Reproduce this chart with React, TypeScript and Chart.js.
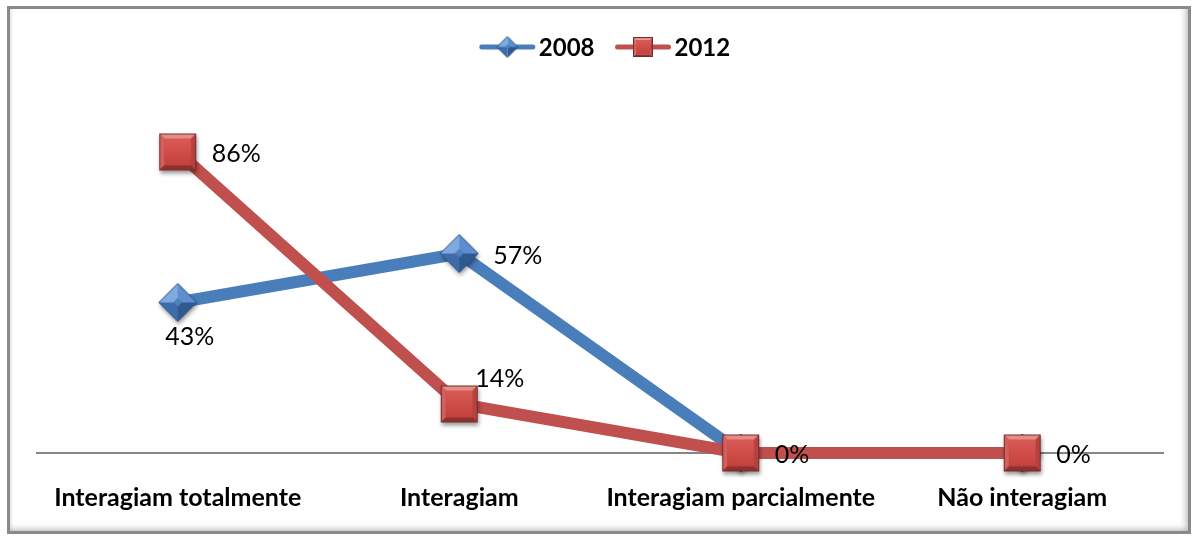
import React, { useEffect, useRef } from "react";
import { Chart, registerables } from "chart.js";

Chart.register(...registerables);

const categories = ["Interagiam totalmente", "Interagiam", "Interagiam parcialmente", "Não interagiam"];
const seriesNames = ["2008", "2012"];
const values2008 = [0.43, 0.57, 0, 0];
const values2012 = [0.86, 0.14, 0, 0];
const labelPos2008 = ["below", "right", "none", "none"];
const labelPos2012 = ["right", "aboveRight", "right", "right"];

const BLUE = "#4A7EBB";
const RED = "#C0504D";
const FONT = "Lato, 'Open Sans', sans-serif";

function makeMarker(kind: string, s: number, shadow: boolean) {
  const pad = Math.ceil(s * 0.2);
  const size = s + pad * 2;
  const c = document.createElement("canvas");
  c.width = size;
  c.height = size;
  const ctx = c.getContext("2d")!;
  const cx = size / 2, cy = size / 2;
  const poly = (pts: number[][], fill: any) => {
    ctx.beginPath();
    ctx.moveTo(pts[0][0], pts[0][1]);
    for (let i = 1; i < pts.length; i++) ctx.lineTo(pts[i][0], pts[i][1]);
    ctx.closePath();
    ctx.fillStyle = fill;
    ctx.fill();
  };
  if (kind === "square") {
    const h = s / 2, b = s * 0.14;
    const x0 = cx - h, x1 = cx + h, y0 = cy - h, y1 = cy + h;
    if (shadow) {
      ctx.save();
      ctx.shadowColor = "rgba(0,0,0,0.4)";
      ctx.shadowBlur = 4;
      ctx.shadowOffsetY = 3;
      ctx.shadowOffsetX = 1;
      poly([[x0, y0], [x1, y0], [x1, y1], [x0, y1]], "#9E3A37");
      ctx.restore();
    }
    poly([[x0, y0], [x1, y0], [x1 - b, y0 + b], [x0 + b, y0 + b]], "#E58C88");
    poly([[x0, y0], [x0 + b, y0 + b], [x0 + b, y1 - b], [x0, y1]], "#D1605C");
    poly([[x1, y0], [x1, y1], [x1 - b, y1 - b], [x1 - b, y0 + b]], "#B4423F");
    poly([[x0, y1], [x0 + b, y1 - b], [x1 - b, y1 - b], [x1, y1]], "#8E302E");
    const g = ctx.createLinearGradient(0, y0 + b, 0, y1 - b);
    g.addColorStop(0, "#DA5A56");
    g.addColorStop(1, "#C4423E");
    poly([[x0 + b, y0 + b], [x1 - b, y0 + b], [x1 - b, y1 - b], [x0 + b, y1 - b]], g);
    ctx.strokeStyle = "#7A2A28";
    ctx.lineWidth = 1;
    ctx.strokeRect(x0 + 0.5, y0 + 0.5, s - 1, s - 1);
  } else {
    const h = s / 2, k = h * 0.22;
    const T = [cx, cy - h], R = [cx + h, cy], B = [cx, cy + h], L = [cx - h, cy];
    const t = [cx, cy - k], r = [cx + k, cy], bb = [cx, cy + k], l = [cx - k, cy];
    if (shadow) {
      ctx.save();
      ctx.shadowColor = "rgba(0,0,0,0.4)";
      ctx.shadowBlur = 4;
      ctx.shadowOffsetY = 3;
      ctx.shadowOffsetX = 1;
      poly([T, R, B, L], "#2F5C92");
      ctx.restore();
    }
    poly([L, T, t, l], "#7FAAE0");
    poly([T, R, r, t], "#5E8ECF");
    poly([R, B, bb, r], "#2E5A90");
    poly([B, L, l, bb], "#3D6CA8");
    poly([t, r, bb, l], "#4F81BD");
    ctx.beginPath();
    ctx.moveTo(T[0], T[1]); ctx.lineTo(R[0], R[1]); ctx.lineTo(B[0], B[1]); ctx.lineTo(L[0], L[1]); ctx.closePath();
    ctx.strokeStyle = "#2A5286";
    ctx.lineWidth = 1;
    ctx.stroke();
  }
  return c;
}

const framePlugin = {
  id: "frame",
  beforeDraw(chart: any) {
    const ctx = chart.ctx;
    const W = chart.width, H = chart.height;
    ctx.save();
    ctx.fillStyle = "#ffffff";
    ctx.fillRect(0, 0, W, H);
    const x0 = 7, y0 = 6, x1 = W - 3, y1 = H - 2;
    let g = ctx.createLinearGradient(x0, 0, x0 + 8, 0);
    g.addColorStop(0, "rgba(150,150,150,0.7)");
    g.addColorStop(1, "rgba(255,255,255,0)");
    ctx.fillStyle = g;
    ctx.fillRect(x0, y0, 8, y1 - y0);
    g = ctx.createLinearGradient(0, y0, 0, y0 + 5);
    g.addColorStop(0, "rgba(160,160,160,0.6)");
    g.addColorStop(1, "rgba(255,255,255,0)");
    ctx.fillStyle = g;
    ctx.fillRect(x0, y0, x1 - x0, 5);
    g = ctx.createLinearGradient(x1 - 13, 0, x1, 0);
    g.addColorStop(0, "rgba(255,255,255,0)");
    g.addColorStop(1, "rgba(140,140,140,0.8)");
    ctx.fillStyle = g;
    ctx.fillRect(x1 - 13, y0, 13, y1 - y0);
    g = ctx.createLinearGradient(0, y1 - 12, 0, y1);
    g.addColorStop(0, "rgba(255,255,255,0)");
    g.addColorStop(1, "rgba(140,140,140,0.8)");
    ctx.fillStyle = g;
    ctx.fillRect(x0, y1 - 12, x1 - x0, 12);
    ctx.strokeStyle = "#8A8A8A";
    ctx.lineWidth = 3;
    ctx.strokeRect(x0 + 1.5, y0 + 1.5, x1 - x0 - 3, y1 - y0 - 3);
    ctx.restore();
  },
};

const legendPlugin = {
  id: "customLegend",
  afterDraw(chart: any) {
    const ctx = chart.ctx;
    ctx.save();
    ctx.font = `bold 24px ${FONT}`;
    const lineLen = 55, gapText = 4, gapItem = 21;
    const items = chart.data.datasets.map((ds: any) => ({ ds, tw: ctx.measureText(ds.label).width }));
    const total = items.reduce((a: number, it: any) => a + lineLen + gapText + it.tw, 0) + gapItem * (items.length - 1);
    let x = chart.width / 2 + 8 - total / 2;
    const y = 47;
    items.forEach((it: any) => {
      ctx.strokeStyle = it.ds.borderColor;
      ctx.lineWidth = 5;
      ctx.lineCap = "round";
      ctx.beginPath();
      ctx.moveTo(x + 2, y);
      ctx.lineTo(x + lineLen - 2, y);
      ctx.stroke();
      const img = it.ds.legendMarker;
      ctx.drawImage(img, x + lineLen / 2 - img.width / 2, y - img.height / 2);
      ctx.fillStyle = "#000";
      ctx.textBaseline = "middle";
      ctx.textAlign = "left";
      ctx.fillText(it.ds.label, x + lineLen + gapText, y + 1);
      x += lineLen + gapText + it.tw + gapItem;
    });
    ctx.restore();
  },
};

const dataLabelPlugin = {
  id: "dataLabels",
  afterDatasetsDraw(chart: any) {
    const ctx = chart.ctx;
    ctx.save();
    ctx.font = `25px ${FONT}`;
    ctx.fillStyle = "#000";
    chart.data.datasets.forEach((ds: any, i: number) => {
      const meta = chart.getDatasetMeta(i);
      meta.data.forEach((pt: any, j: number) => {
        const pos = ds.labelPositions[j];
        if (pos === "none") return;
        const txt = Math.round(ds.data[j] * 100) + "%";
        if (pos === "below") {
          ctx.textAlign = "center";
          ctx.textBaseline = "middle";
          ctx.fillText(txt, pt.x + 12, pt.y + 34);
        } else if (pos === "right") {
          ctx.textAlign = "left";
          ctx.textBaseline = "middle";
          ctx.fillText(txt, pt.x + 34, pt.y + 2);
        } else if (pos === "aboveRight") {
          ctx.textAlign = "left";
          ctx.textBaseline = "middle";
          ctx.fillText(txt, pt.x + 16, pt.y - 25);
        }
      });
    });
    ctx.restore();
  },
};

export default function App() {
  const ref = useRef<HTMLCanvasElement>(null);
  useEffect(() => {
    const diamond = makeMarker("diamond", 38, true);
    const square = makeMarker("square", 37, true);
    const chart = new Chart(ref.current!, {
      type: "line",
      data: {
        labels: categories,
        datasets: [
          {
            label: seriesNames[0],
            data: values2008,
            borderColor: BLUE,
            backgroundColor: BLUE,
            borderWidth: 12,
            pointStyle: diamond as any,
            pointRadius: 18,
            pointHoverRadius: 18,
            order: 1,
            clip: false,
            labelPositions: labelPos2008,
            legendMarker: makeMarker("diamond", 21, false),
          } as any,
          {
            label: seriesNames[1],
            data: values2012,
            borderColor: RED,
            backgroundColor: RED,
            borderWidth: 12,
            pointStyle: square as any,
            pointRadius: 18,
            pointHoverRadius: 18,
            order: 0,
            clip: false,
            labelPositions: labelPos2012,
            legendMarker: makeMarker("square", 20, false),
          } as any,
        ],
      },
      options: {
        responsive: false,
        animation: false,
        events: [],
        layout: { padding: { left: 37, right: 31, top: 103, bottom: 0 } },
        plugins: { legend: { display: false }, tooltip: { enabled: false } },
        scales: {
          x: {
            offset: true,
            grid: { display: false },
            border: { display: true, color: "#868686", width: 2 },
            ticks: {
              padding: 22,
              color: "#000",
              maxRotation: 0,
              autoSkip: false,
              font: { family: FONT, size: 25, weight: "bold" },
            },
            afterFit: (s: any) => {
              s.height = 83;
            },
          },
          y: { display: false, min: 0, max: 1 },
        },
      },
      plugins: [framePlugin, legendPlugin, dataLabelPlugin],
    });
    return () => chart.destroy();
  }, []);
  return (
    <div style={{ position: "absolute", left: 0, top: 0 }}>
      <canvas ref={ref} width={1194} height={536} style={{ display: "block" }} />
    </div>
  );
}
